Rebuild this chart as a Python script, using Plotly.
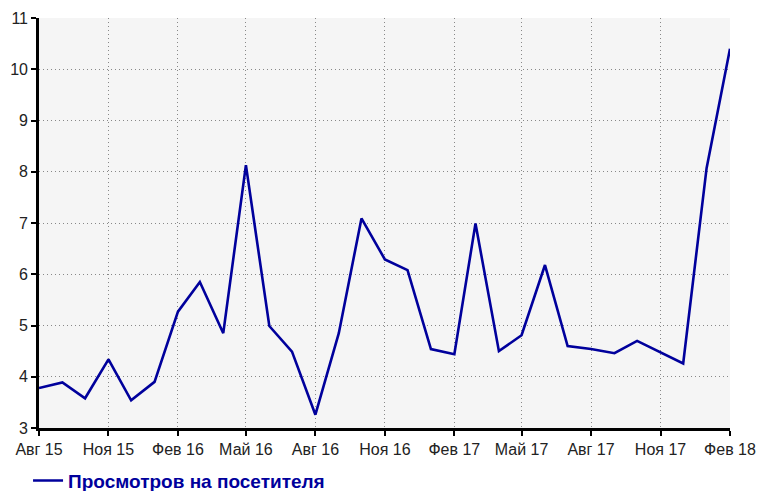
import plotly.graph_objects as go

# Monthly page views per visitor, Aug 2015 – Feb 2018
months = [
    "2015-08-01", "2015-09-01", "2015-10-01", "2015-11-01", "2015-12-01",
    "2016-01-01", "2016-02-01", "2016-03-01", "2016-04-01", "2016-05-01",
    "2016-06-01", "2016-07-01", "2016-08-01", "2016-09-01", "2016-10-01",
    "2016-11-01", "2016-12-01", "2017-01-01", "2017-02-01", "2017-03-01",
    "2017-04-01", "2017-05-01", "2017-06-01", "2017-07-01", "2017-08-01",
    "2017-09-01", "2017-10-01", "2017-11-01", "2017-12-01", "2018-01-01",
    "2018-02-01",
]
views_per_visitor = [
    3.78, 3.89, 3.58, 4.34, 3.54,
    3.90, 5.27, 5.85, 4.85, 8.13,
    4.99, 4.49, 3.26, 4.85, 7.09,
    6.29, 6.08, 4.54, 4.44, 6.99,
    4.50, 4.81, 6.18, 4.60, 4.54,
    4.46, 4.70, 4.47, 4.26, 8.07,
    10.40,
]

tick_dates = ["2015-08-01", "2015-11-01", "2016-02-01", "2016-05-01",
              "2016-08-01", "2016-11-01", "2017-02-01", "2017-05-01",
              "2017-08-01", "2017-11-01", "2018-02-01"]
tick_labels = ["Авг 15", "Ноя 15", "Фев 16", "Май 16", "Авг 16", "Ноя 16",
               "Фев 17", "Май 17", "Авг 17", "Ноя 17", "Фев 18"]
y_ticks = [3, 4, 5, 6, 7, 8, 9, 10, 11]

line_color = "#00009c"

fig = go.Figure(
    go.Scatter(
        x=months,
        y=views_per_visitor,
        mode="lines",
        name="Просмотров на посетителя",
        line=dict(color=line_color, width=2.6),
    )
)

axis_font = dict(family="Liberation Sans, Arial, sans-serif", size=16, color="#222222")

common_axis = dict(
    tickfont=axis_font,
    ticks="outside",
    ticklen=5,
    tickwidth=1.5,
    tickcolor="black",
    showline=True,
    linecolor="black",
    linewidth=2.6,
    showgrid=True,
    gridcolor="#888888",
    griddash="1px,3px",
    gridwidth=1,
    zeroline=False,
    automargin=False,
)

fig.update_layout(
    width=758,
    height=491,
    margin=dict(l=39, r=28, t=18, b=63),
    paper_bgcolor="white",
    plot_bgcolor="#f5f5f5",
    showlegend=True,
    legend=dict(
        orientation="h",
        xref="container",
        yref="container",
        x=0.037,
        y=0.021,
        xanchor="left",
        yanchor="middle",
        font=dict(family="Liberation Sans, Arial, sans-serif", size=19,
                  color=line_color, weight="bold"),
        bgcolor="rgba(0,0,0,0)",
    ),
    xaxis=dict(
        type="date",
        range=["2015-08-01", "2018-02-01"],
        tickvals=tick_dates,
        ticktext=tick_labels,
        **common_axis,
    ),
    yaxis=dict(
        range=[3, 11],
        tickvals=y_ticks,
        **common_axis,
    ),
)

fig.write_html("out.html")
